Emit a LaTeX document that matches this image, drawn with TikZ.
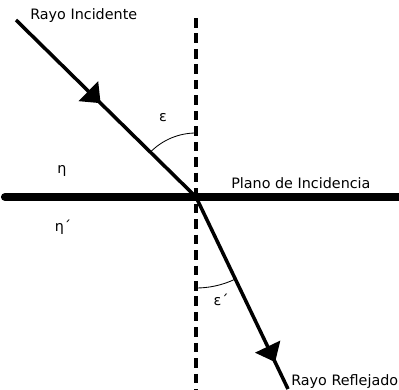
\documentclass[tikz,border=0pt]{standalone}
\usepackage{fontspec}
\setmainfont{DejaVu Sans}
\usepackage{tikz}
\usetikzlibrary{arrows.meta,decorations.markings}

\begin{document}
\begin{tikzpicture}[x=0.025cm,y=-0.025cm,font=\fontsize{10.2}{12}\selectfont,
  ray/.style={line width=2.5pt},
  normal/.style={line width=2.5pt,dash pattern=on 6.8pt off 4.2pt},
  plane/.style={line width=5.8pt,line cap=round},
  angarc/.style={line width=0.6pt},
  lbl/.style={inner sep=0pt,anchor=west},
  sym/.style={inner sep=0pt},
  midarrow/.style={postaction={decorate},decoration={markings,
    mark=at position #1 with {\arrow{Triangle[length=4.3mm,width=6.8mm]}}}}]
\useasboundingbox (0,0) rectangle (399,389);
% ---- points ----
\coordinate (O) at (196,197);
\coordinate (src) at (16,20);
\coordinate (dst) at (288,389);
\coordinate (ntop) at (196,18);
\coordinate (nbot) at (196,392);
\coordinate (pl) at (5,197);
\coordinate (pr) at (405,197);
% ---- plane and normal ----
\draw[plane] (pl) -- (pr);
\draw[normal] (ntop) -- (nbot);
% ---- rays ----
\draw[ray,midarrow=0.47] (src) -- (O);
\draw[ray,midarrow=0.86] (O) -- (dst);
% ---- angles ----
\draw[angarc] ([shift={(-90:64)}]O) arc[start angle=-90,end angle=-135.5,radius=64];
\draw[angarc] ([shift={(90:91)}]O) arc[start angle=90,end angle=64.6,radius=91];
\node[sym] (eps) at (163,118) {ε};
\node[sym] (eps2) at (221,300) {ε´};
% ---- media ----
\node[sym] (eta) at (62,171) {η};
\node[sym] (eta2) at (63,227) {η´};
% ---- labels ----
\node[lbl] (inc) at (30,16) {Rayo Incidente};
\node[lbl] (pla) at (231,183) {Plano de Incidencia};
\node[lbl] (ref) at (291,382) {Rayo Reflejado};
\end{tikzpicture}
\end{document}
